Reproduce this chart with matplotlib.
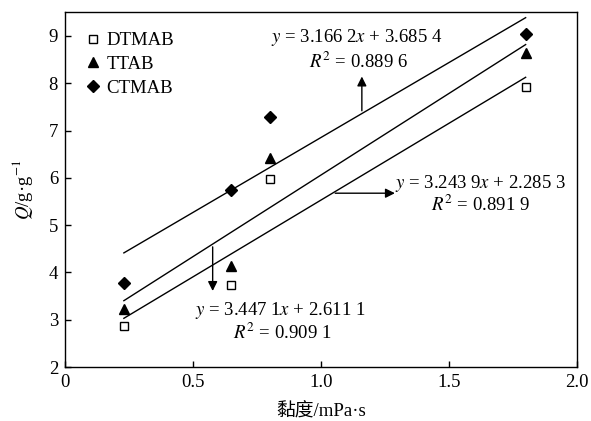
import matplotlib
matplotlib.use("Agg")
import matplotlib.pyplot as plt
import numpy as np

plt.rcParams['font.family'] = ['Liberation Serif', 'Noto Sans CJK SC']
plt.rcParams['mathtext.fontset'] = 'stix'

viscosity = [0.23, 0.65, 0.80, 1.80]
dtmab = [2.86, 3.73, 5.98, 7.92]
ttab = [3.23, 4.13, 6.42, 8.64]
ctmab = [3.78, 5.75, 7.28, 9.03]

# fitted lines (slope, intercept)
fit_ctmab = (3.1662, 3.6854)
fit_ttab = (3.4471, 2.6111)
fit_dtmab = (3.2439, 2.2853)

xticks = [0, 0.5, 1.0, 1.5, 2.0]
xticklabels = ['0', '0.5', '1.0', '1.5', '2.0']
yticks = [2, 3, 4, 5, 6, 7, 8, 9]

FS = 13.5

fig = plt.figure(figsize=(5.91, 4.21), dpi=100)
ax = fig.add_axes([0.110, 0.128, 0.866, 0.843])

ax.plot(viscosity, dtmab, linestyle='none', marker='s', markersize=6,
        markerfacecolor='white', markeredgecolor='black', markeredgewidth=1.0, label='DTMAB')
ax.plot(viscosity, ttab, linestyle='none', marker='^', markersize=7,
        color='black', label='TTAB')
ax.plot(viscosity, ctmab, linestyle='none', marker='D', markersize=6,
        color='black', label='CTMAB')

xs = np.array([min(viscosity), max(viscosity)])
for slope, icpt in (fit_ctmab, fit_ttab, fit_dtmab):
    ax.plot(xs, slope * xs + icpt, color='black', linewidth=1.0)

ax.set_xlim(0, 2.0)
ax.set_ylim(2, 9.5)
ax.set_xticks(xticks)
ax.set_xticklabels(xticklabels)
ax.set_yticks(yticks)
ax.tick_params(direction='in', labelsize=FS, length=4, width=1, pad=5)
for s in ax.spines.values():
    s.set_linewidth(1.0)

ax.set_xlabel('黏度/mPa·s', fontsize=FS, labelpad=8.5)
ax.set_ylabel('$Q$/g·g$^{-1}$', fontsize=FS, labelpad=10)

leg = ax.legend(loc='upper left', frameon=False, fontsize=FS, handletextpad=0.2,
                borderaxespad=0.0, labelspacing=0.35, handlelength=1.0,
                bbox_to_anchor=(0.022, 0.965))

arrow = dict(arrowstyle='-|>', color='black', lw=1.0, mutation_scale=14)

# CTMAB annotation
x1 = 1.16
ax.annotate('', xy=(x1, 8.2), xytext=(x1, fit_ctmab[0] * x1 + fit_ctmab[1]), arrowprops=arrow)
ax.text(1.14, 8.97, '$y$ = 3.166 2$x$ + 3.685 4', ha='center', va='center', fontsize=FS)
ax.text(1.145, 8.45, '$R^2$ = 0.889 6', ha='center', va='center', fontsize=FS)

# TTAB annotation
x2 = 0.577
ax.annotate('', xy=(x2, 3.55), xytext=(x2, fit_ttab[0] * x2 + fit_ttab[1]), arrowprops=arrow)
ax.text(0.84, 3.2, '$y$ = 3.447 1$x$ + 2.611 1', ha='center', va='center', fontsize=FS)
ax.text(0.85, 2.73, '$R^2$ = 0.909 1', ha='center', va='center', fontsize=FS)

# DTMAB annotation
x3 = 1.045
y3 = fit_dtmab[0] * x3 + fit_dtmab[1]
ax.annotate('', xy=(1.30, y3), xytext=(x3, y3), arrowprops=arrow)
ax.text(1.623, 5.88, '$y$ = 3.243 9$x$ + 2.285 3', ha='center', va='center', fontsize=FS)
ax.text(1.623, 5.42, '$R^2$ = 0.891 9', ha='center', va='center', fontsize=FS)

fig.savefig('out.png', dpi=100)
